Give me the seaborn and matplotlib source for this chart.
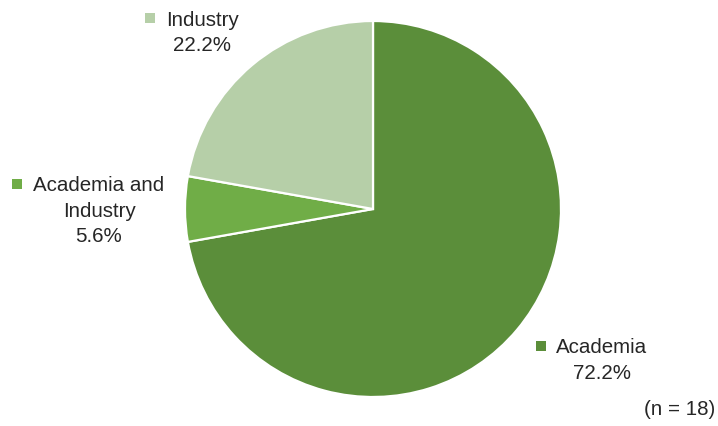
import matplotlib
matplotlib.use("Agg")
import matplotlib.pyplot as plt
import seaborn as sns

# data
categories = ["Academia", "Academia and\nIndustry", "Industry"]
shares = [72.2, 5.6, 22.2]
colors = ["#5B8E3A", "#70AD47", "#B6CFA8"]
n_total = 18

sns.set_style("white")
plt.rcParams['font.family'] = ['Liberation Sans', 'DejaVu Sans']

W, H = 718, 427
fig = plt.figure(figsize=(W / 100, H / 100), dpi=100)
ax = fig.add_axes([0, 0, 1, 1])

# pie (y axis inverted later, so counterclock=True draws clockwise on screen)
ax.pie(shares, colors=colors, startangle=-90, counterclock=True,
       center=(373, 210), radius=188, frame=True,
       wedgeprops=dict(edgecolor='white', linewidth=1.6))
ax.set_xlim(0, W)
ax.set_ylim(H, 0)
ax.set_aspect('equal')
ax.axis('off')

# label positions: (text center x, first line y, marker x)
label_pos = [(602, 348, 541), (99, 186, 17), (202, 20, 150)]
line_gap = 25.5
for cat, val, col, (tx, ty, mx) in zip(categories, shares, colors, label_pos):
    lines = cat.split("\n") + [f"{val:.1f}%"]
    for i, line in enumerate(lines):
        ax.text(tx, ty + i * line_gap, line, ha='center', va='center',
                fontsize=14.8, color='#262626')
    ax.scatter([mx], [ty - 1], marker='s', s=48, color=col, linewidths=0)

ax.text(715, 410, f"(n = {n_total})", ha='right', va='center', fontsize=14.8,
        color='#262626')

fig.savefig("out.png", dpi=100)
